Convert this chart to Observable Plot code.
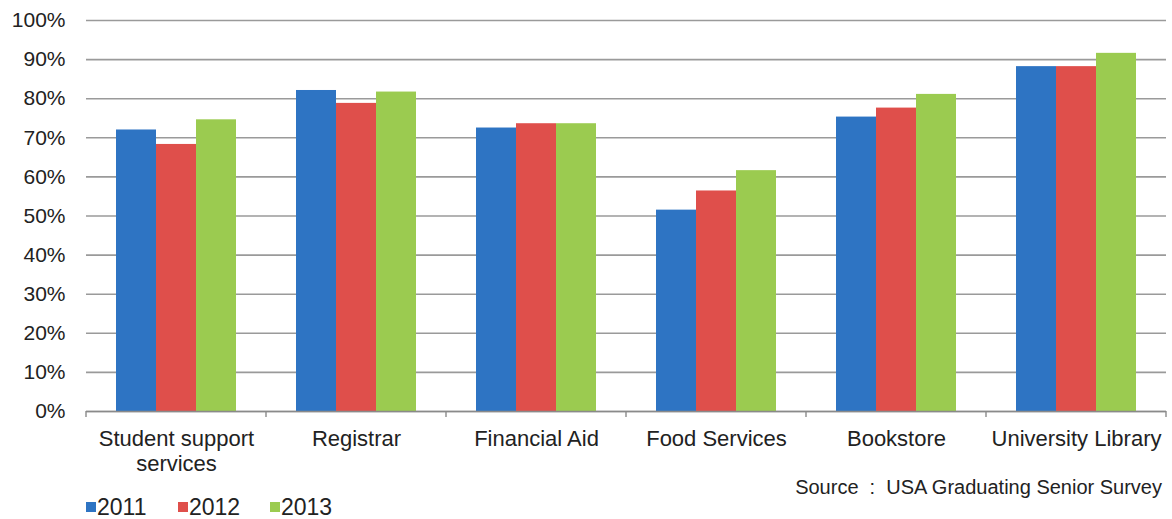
<!DOCTYPE html>
<html>
<head>
<meta charset="utf-8">
<script src="https://cdn.jsdelivr.net/npm/d3@7"></script>
<script src="https://cdn.jsdelivr.net/npm/@observablehq/plot@0.6"></script>
<style>
  body { margin: 0; background: #fff; font-family: "Liberation Sans", Arial, sans-serif; }
  #wrap { position: relative; width: 1172px; height: 519px; overflow: hidden; }
  #wrap svg { position: absolute; left: 0; top: 0; }
  #source { position: absolute; right: 10px; top: 475px; font-size: 20px; color: #222; white-space: pre; line-height: 24px; }
  #legend { position: absolute; left: 86px; top: 494px; font-size: 23px; line-height: 26px; color: #222; display: flex; }
  #legend span.item { display: flex; align-items: center; width: 92px; }
  #legend span.sw { display: inline-block; width: 10px; height: 10px; margin-right: 1px; }
</style>
</head>
<body>
<div id="wrap"></div>
<script>
const categories = ["Student support services", "Registrar", "Financial Aid", "Food Services", "Bookstore", "University Library"];
const years = ["2011", "2012", "2013"];
const values2011 = [72.0, 82.1, 72.5, 51.5, 75.3, 88.2];
const values2012 = [68.3, 78.8, 73.6, 56.4, 77.6, 88.2];
const values2013 = [74.6, 81.7, 73.6, 61.6, 81.1, 91.6];
const yTicks = [0, 10, 20, 30, 40, 50, 60, 70, 80, 90, 100];
const colors = ["#2E74C3", "#DF4F4B", "#9BCB50"];
const sourceText = "Source  :  USA Graduating Senior Survey";

const series = [values2011, values2012, values2013];
const data = [];
categories.forEach((c, i) => years.forEach((y, j) => data.push({category: c, year: y, value: series[j][i]})));

const plot = Plot.plot({
  width: 1172,
  height: 482,
  marginTop: 20,
  marginBottom: 71,
  marginLeft: 84,
  marginRight: 4,
  style: {fontFamily: "'Liberation Sans', Arial, sans-serif", background: "transparent", color: "#222"},
  fx: {domain: categories, paddingInner: 0, paddingOuter: 0, label: null},
  x: {domain: years, paddingInner: 0, paddingOuter: 0.75, axis: null},
  y: {domain: [0, 100], label: null},
  color: {domain: years, range: colors},
  marks: [
    Plot.gridY(yTicks, {stroke: "#9a9a9a", strokeOpacity: 1, strokeWidth: 1.6}),
    Plot.barY(data, {fx: "category", x: "year", y: "value", fill: "year"}),
    Plot.ruleY([0], {stroke: "#8a8a8a", strokeWidth: 1.6}),
    Plot.axisY(yTicks, {tickSize: 0, tickPadding: 21, tickFormat: d => d + "%", fontSize: 21, label: null}),
    Plot.axisFx({anchor: "bottom", tickSize: 0, tickPadding: 17, fontSize: 22, label: null, lineHeight: 1.12,
      tickFormat: d => d.replace("support ", "support\n")})
  ]
});

// category boundary ticks using the library's fx scale
const fxs = plot.scale("fx");
const fxScale = Plot.scale({fx: fxs});
const step = fxs.step;
const svg = d3.select(plot);
const y0 = plot.scale("y").apply(0);
const bounds = categories.map(c => fxScale.apply(c)).concat([fxScale.apply(categories[categories.length - 1]) + step]);
svg.append("g").selectAll("line").data(bounds).join("line")
  .attr("x1", d => d).attr("x2", d => d)
  .attr("y1", y0).attr("y2", y0 + 6)
  .attr("stroke", "#8a8a8a").attr("stroke-width", 1.4);

const wrap = document.getElementById("wrap");
wrap.appendChild(plot);

const src = document.createElement("div");
src.id = "source";
src.textContent = sourceText;
wrap.appendChild(src);

const leg = document.createElement("div");
leg.id = "legend";
years.forEach((y, i) => {
  const item = document.createElement("span");
  item.className = "item";
  const sw = document.createElement("span");
  sw.className = "sw";
  sw.style.background = colors[i];
  item.appendChild(sw);
  item.appendChild(document.createTextNode(y));
  leg.appendChild(item);
});
wrap.appendChild(leg);
</script>
</body>
</html>
